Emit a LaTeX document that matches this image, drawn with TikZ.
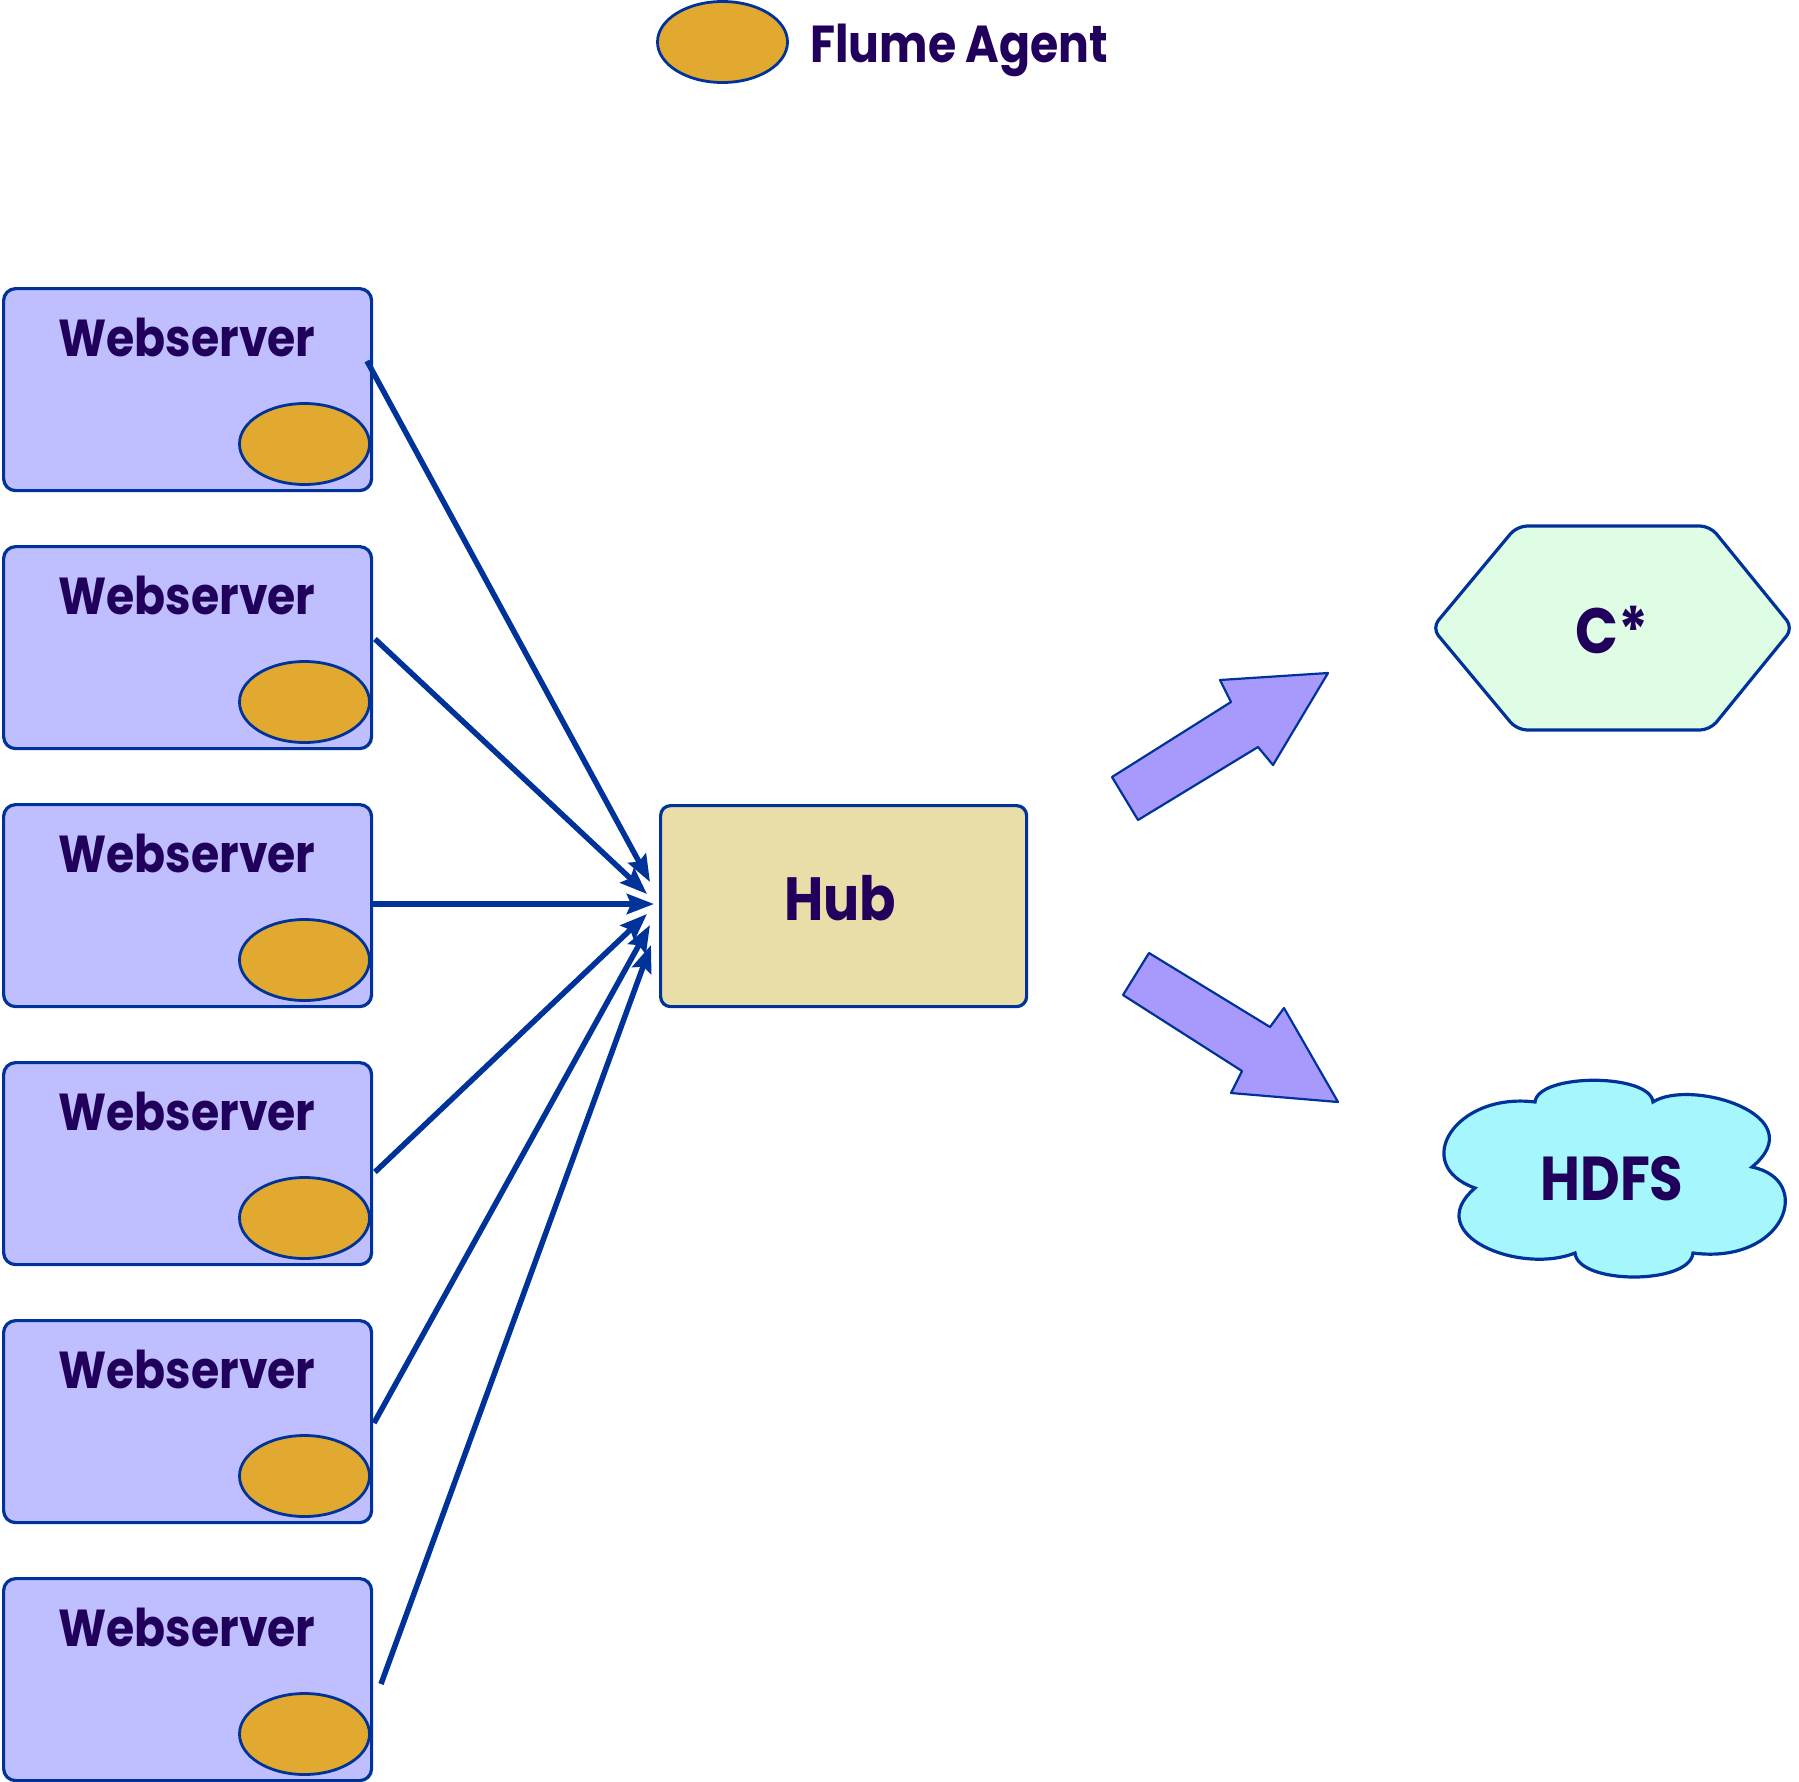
\documentclass[tikz,border=0pt]{standalone}
\usepackage{fontspec}
\setmainfont{Poppins}[FakeStretch=0.88]
\usetikzlibrary{arrows.meta,shapes.geometric}
\definecolor{strk}{HTML}{003399}
\definecolor{txt}{HTML}{21005C}
\definecolor{wsfill}{HTML}{BFBFFF}
\definecolor{agfill}{HTML}{E1A92F}
\definecolor{hubfill}{HTML}{E9DDA8}
\definecolor{hexfill}{HTML}{DEFDE4}
\definecolor{cloudfill}{HTML}{A5F7FD}
\definecolor{bafill}{HTML}{A899FD}
\tikzset{
  wsbox/.style={draw=strk, line width=3.2pt, fill=wsfill, rounded corners=12pt,
    minimum width=368pt, minimum height=202pt, inner sep=0pt},
  agent/.style={ellipse, draw=strk, line width=2.8pt, fill=agfill,
    minimum width=130pt, minimum height=81pt, inner sep=0pt},
  lbl/.style={text=txt, font=\fontsize{52}{60}\selectfont\bfseries, inner sep=0pt},
  conn/.style={draw=strk, line width=5.5pt, -{Stealth[length=27pt,width=20pt,inset=4pt]}},
  barrow/.style={draw=strk, line width=2.2pt, fill=bafill, line join=round},
}
\begin{document}
\begin{tikzpicture}[x=1pt,y=-1pt]
\useasboundingbox (0,0) rectangle (1799,1781);
% legend
\node[agent] (legag) at (722.5,42) {};
\node[lbl, anchor=base west] (legtxt) at (810,62) {Flume Agent};
% webservers
\foreach \i in {1,...,6} {
  \pgfmathsetmacro{\top}{286+258*(\i-1)}
  \node[wsbox, anchor=north west] (ws\i) at (2,\top+1) {};
  \node[lbl, anchor=base] (wsl\i) at (187,\top+70) {Webserver};
  \node[agent] (ag\i) at (304.5,\top+158) {};
}
% hub
\node[draw=strk, line width=3.2pt, fill=hubfill, rounded corners=10pt,
  minimum width=366pt, minimum height=201pt, anchor=north west] (hub) at (659,804) {};
\node[lbl, font=\fontsize{61}{70}\selectfont\bfseries] (hubl) at (840,898) {Hub};
% connectors
\coordinate (s1) at (367,361);  \coordinate (t1) at (650,882);
\coordinate (s2) at (375,639);  \coordinate (t2) at (647,894);
\coordinate (s3) at (371,904);  \coordinate (t3) at (654,904);
\coordinate (s4) at (375,1172); \coordinate (t4) at (647,914);
\coordinate (s5) at (374,1423); \coordinate (t5) at (650,925);
\coordinate (s6) at (381,1684); \coordinate (t6) at (651,945);
\foreach \i in {1,...,6} { \draw[conn] (s\i) -- (t\i); }
% block arrows
\draw[barrow] (1112,777) -- (1138,820) -- (1258,747) -- (1273,765) -- (1328,673)
  -- (1220,680) -- (1231,702) -- cycle;
\draw[barrow] (1149,953) -- (1123,995) -- (1242,1071) -- (1231,1093) -- (1338,1102)
  -- (1284,1008) -- (1270,1027) -- cycle;
% hexagon C*
\draw[draw=strk, line width=3.2pt, fill=hexfill, rounded corners=10pt]
  (1432,628) -- (1517,526) -- (1710,526) -- (1793,628) -- (1710,730) -- (1517,730) -- cycle;
\node[lbl, font=\fontsize{64}{70}\selectfont\bfseries] (cstar) at (1612,630) {C*};
% cloud HDFS
\draw[draw=strk, line width=3.2pt, fill=cloudfill]
  (1535,1102) .. controls (1538,1073) and (1650,1073) .. (1653,1102)
  .. controls (1690,1078) and (1815,1115) .. (1752,1167)
  .. controls (1815,1180) and (1785,1265) .. (1693,1253)
  .. controls (1690,1285) and (1578,1285) .. (1575,1253)
  .. controls (1520,1275) and (1420,1235) .. (1475,1188)
  .. controls (1410,1165) and (1455,1092) .. (1535,1102) -- cycle;
\node[lbl, font=\fontsize{62}{70}\selectfont\bfseries] (hdfs) at (1612,1179) {HDFS};
\end{tikzpicture}
\end{document}
